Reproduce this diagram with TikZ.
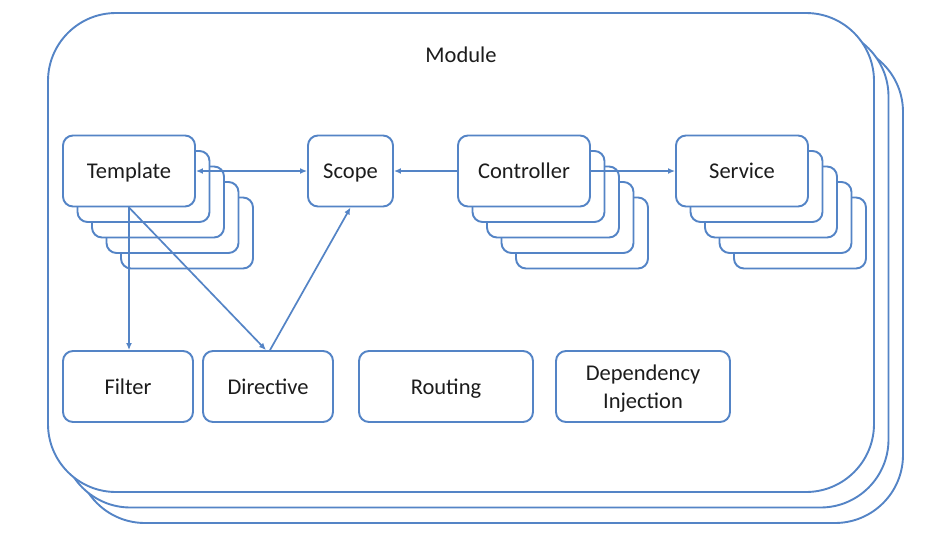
\documentclass[tikz,border=0pt]{standalone}
\usepackage{fontspec}
\setmainfont{Carlito}
\usetikzlibrary{arrows.meta}
\definecolor{frameblue}{RGB}{84,132,198}
\definecolor{labelgray}{RGB}{28,28,28}
\newcommand\lblstrut{\rule[-6pt]{0pt}{27pt}}
\tikzset{
every picture/.style={
line width=1.9pt
},
box/.style={draw=frameblue, fill=white, rounded corners=10pt, text=labelgray,
  font=\fontsize{22.5}{28}\selectfont, align=center, inner sep=0pt,
  minimum width=132pt, minimum height=71pt},
link/.style={draw=frameblue, line width=1.7pt, >={Latex[length=7pt,width=6pt]}}
}

\begin{document}
\begin{tikzpicture}[x=1pt, y=-1pt]
\useasboundingbox (0,0) rectangle (926,558);

% module frames
\foreach \k in {2,1,0}{
  \draw[draw=frameblue, fill=white, rounded corners=68pt]
    (48+14.5*\k, 13+15.5*\k) rectangle (874+14.5*\k, 492+15.5*\k);
}
\node[text=labelgray, font=\fontsize{22.5}{28}\selectfont] (module) at (461,55) {Module};

% stacked copies
\foreach \cx in {129, 524, 742}{
  \foreach \k in {4,3,2,1}{
    \node[box] at (\cx+14.5*\k, 171+15.5*\k) {};
  }
}

\node[box] (tmpl) at (129,171) {\lblstrut Template};
\node[box, minimum width=85pt] (scope) at (350.5,171) {\lblstrut Scope};
\node[box] (ctrl) at (524,171) {\lblstrut Controller};
\node[box] (svc) at (742,171) {\lblstrut Service};

\node[box, minimum width=130pt] (filter) at (128,386.5) {\lblstrut Filter};
\node[box, minimum width=130pt] (directive) at (268,386.5) {\lblstrut Directive};
\node[box, minimum width=174pt] (routing) at (446,386.5) {\lblstrut Routing};
\node[box, minimum width=174pt] (di) at (643,386.5) {\lblstrut Dependency\\\lblstrut Injection};

\draw[link, <->] (tmpl) -- (scope);
\draw[link, ->] (ctrl) -- (scope);
\draw[link, ->] (ctrl) -- (svc);
\draw[link, ->] (tmpl.south) -- (tmpl.south |- filter.north);
\draw[link, ->] (tmpl.south) -- ([xshift=-2pt]directive.north);
\draw[link, ->] ([xshift=2pt]directive.north) -- (scope.south);
\end{tikzpicture}
\end{document}
